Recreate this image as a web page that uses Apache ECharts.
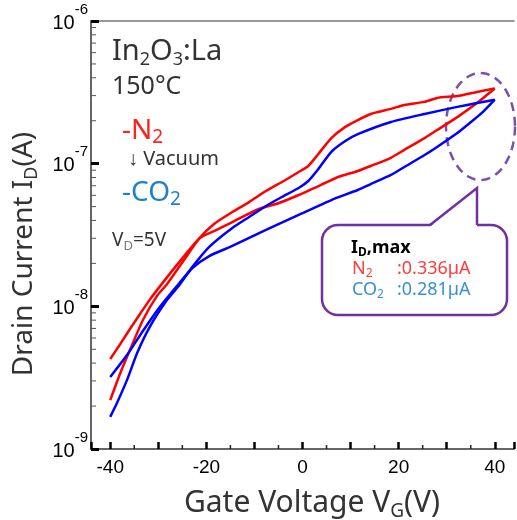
<!DOCTYPE html>
<html>
<head>
<meta charset="utf-8">
<script src="https://cdn.jsdelivr.net/npm/echarts@6/dist/echarts.min.js"></script>
<style>
html, body { margin: 0; padding: 0; background: #fff; }
#chart { width: 517px; height: 520px; }
</style>
</head>
<body>
<div id="chart"></div>
<script>
// N2 transfer curve, branch with the shoulder near +5 V
var n2UpperV = [-40, -37.9, -35.9, -33.2, -30.3, -28.2, -24.5, -21.4, -18.4, -14.6, -11.1, -7.6, -3.9, -0.8, 1.2, 3.3, 6.0, 8.9, 11.5, 14.2, 18.4, 21.2, 25.4, 28.0, 32.2, 36.3, 40];
var n2UpperI = [2.2e-9, 3.41e-9, 4.94e-9, 8.02e-9, 1.18e-8, 1.43e-8, 2.15e-8, 3.01e-8, 3.78e-8, 4.58e-8, 5.38e-8, 6.43e-8, 7.56e-8, 8.74e-8, 9.63e-8, 1.17e-7, 1.51e-7, 1.81e-7, 2.02e-7, 2.23e-7, 2.42e-7, 2.58e-7, 2.71e-7, 2.89e-7, 2.98e-7, 3.18e-7, 3.36e-7];
// N2, the other branch
var n2LowerV = [-40, -37.9, -35.9, -33.8, -31.8, -29.1, -25.6, -21.4, -18.4, -14.6, -9.1, -4.9, -0.8, 4.7, 7.4, 11.5, 14.2, 18.4, 21.2, 25.4, 28.0, 32.2, 36.3, 40];
var n2LowerI = [4.27e-9, 5.45e-9, 6.94e-9, 8.84e-9, 1.11e-8, 1.46e-8, 2.05e-8, 3.0e-8, 3.37e-8, 3.90e-8, 4.81e-8, 5.30e-8, 6.03e-8, 7.32e-8, 8.06e-8, 8.88e-8, 9.63e-8, 1.10e-7, 1.25e-7, 1.51e-7, 1.72e-7, 2.12e-7, 2.66e-7, 3.36e-7];
// CO2
var co2UpperV = [-40, -38.6, -36.5, -34.4, -31.8, -28.2, -25.6, -22.9, -19.4, -14.6, -11.1, -7.6, -4.3, -0.8, 1.2, 3.3, 6.0, 8.9, 11.5, 18.4, 25.4, 32.2, 36.3, 40];
var co2UpperI = [1.68e-9, 2.10e-9, 3.05e-9, 4.71e-9, 7.16e-9, 1.107e-8, 1.41e-8, 1.89e-8, 2.61e-8, 3.54e-8, 4.23e-8, 5.05e-8, 5.84e-8, 6.75e-8, 7.56e-8, 9.18e-8, 1.21e-7, 1.44e-7, 1.61e-7, 1.96e-7, 2.23e-7, 2.50e-7, 2.66e-7, 2.81e-7];
var co2LowerV = [-40, -36.5, -33.2, -29.7, -25.6, -22.9, -19.4, -14.6, -7.6, -0.8, 6.0, 11.5, 14.2, 18.4, 21.2, 25.4, 28.0, 32.2, 34.8, 37.5, 40];
var co2LowerI = [3.20e-9, 4.56e-9, 6.72e-9, 9.89e-9, 1.458e-8, 1.856e-8, 2.25e-8, 2.65e-8, 3.43e-8, 4.37e-8, 5.56e-8, 6.54e-8, 7.20e-8, 8.33e-8, 9.48e-8, 1.15e-7, 1.31e-7, 1.64e-7, 1.93e-7, 2.30e-7, 2.81e-7];

var xMin = -44, xMax = 44;
var yMin = 1e-9, yMax = 1e-6;
var xMinorTicks = [-35, -25, -15, -5, 5, 15, 25, 35];
var yLabelValues = [1e-9, 1e-8, 1e-7, 1e-6];
var yLabelExps = ['-9', '-8', '-7', '-6'];
var yDecades = [1e-9, 1e-8, 1e-7];
var yMinorMult = [2, 3, 4, 5, 6, 7, 8, 9];

var yMinorTicks = [];
yDecades.forEach(function (d) {
	yMinorMult.forEach(function (m) { yMinorTicks.push(m * d); });
});

function pairs(xs, ys) {
	return xs.map(function (v, i) { return [v, ys[i]]; });
}

var RED = '#ff0000';
var BLUE = '#0000ff';
var PURPLE = '#7030a0';
var TXT = '#333';
var FONT = '"Noto Sans", sans-serif';
var TICKFONT = '"Liberation Sans", Arial, sans-serif';

function curve(data, color) {
	return {
		type: 'line',
		data: data,
		symbol: 'none',
		smooth: 0.2,
		lineStyle: { color: color, width: 2.5 },
		silent: true
	};
}

// dashed ellipse around the maxima
var ell = [];
for (var k = 0; k < 72; k++) {
	var a = k / 72 * Math.PI * 2;
	ell.push([480.5 + 34.5 * Math.cos(a), 126.5 + 53.5 * Math.sin(a)]);
}

var chart = echarts.init(document.getElementById('chart'));

var option = {
	animation: false,
	backgroundColor: '#fff',
	grid: { left: 91, right: 0, top: 21, bottom: 71, containLabel: false },
	xAxis: [{
		type: 'value',
		min: xMin, max: xMax,
		splitNumber: 9,
		axisLine: { onZero: false, lineStyle: { color: '#666', width: 2 } },
		axisTick: { inside: true, length: 7, lineStyle: { color: '#000', width: 2.5 } },
		axisLabel: {
			margin: 9,
			fontSize: 19,
			color: '#000',
			fontFamily: TICKFONT,
			formatter: function (v) { return (v % 20 === 0) ? String(v) : ''; }
		},
		splitLine: { show: false }
	}, {
		type: 'value',
		position: 'top',
		min: xMin, max: xMax,
		axisLine: { show: true, onZero: false, lineStyle: { color: '#777', width: 1.5 } },
		axisTick: { show: false },
		axisLabel: { show: false },
		splitLine: { show: false }
	}],
	yAxis: {
		type: 'log',
		logBase: 10,
		min: yMin, max: yMax,
		axisLine: { show: true, onZero: false, lineStyle: { color: '#666', width: 2 } },
		axisTick: { show: true, inside: true, length: 8, lineStyle: { color: '#000', width: 3 } },
		axisLabel: { show: false },
		splitLine: { show: false }
	},
	series: [
		{
			// log minor ticks on the y axis
			type: 'custom',
			silent: true,
			clip: false,
			data: yMinorTicks.map(function (v) { return [xMin, v]; }),
			renderItem: function (params, api) {
				var p = api.coord([api.value(0), api.value(1)]);
				return { type: 'line', shape: { x1: p[0], y1: p[1], x2: p[0] + 5, y2: p[1] }, style: { stroke: '#555', lineWidth: 1 } };
			}
		},
		{
			// minor ticks on the x axis
			type: 'custom',
			silent: true,
			clip: false,
			data: xMinorTicks.map(function (v) { return [v, yMin]; }),
			renderItem: function (params, api) {
				var p = api.coord([api.value(0), api.value(1)]);
				return { type: 'line', shape: { x1: p[0], y1: p[1], x2: p[0], y2: p[1] - 4 }, style: { stroke: '#222', lineWidth: 1.5 } };
			}
		},
		{
			// y tick labels 10^n
			type: 'custom',
			silent: true,
			clip: false,
			data: yLabelValues.map(function (v, i) { return [xMin, v, i]; }),
			renderItem: function (params, api) {
				var p = api.coord([api.value(0), api.value(1)]);
				var e = yLabelExps[api.value(2)];
				return {
					type: 'text',
					x: p[0] - 3,
					y: p[1] - 3.5,
					style: {
						text: '{b|10}{s|' + e + '}',
						align: 'right',
						verticalAlign: 'middle',
						rich: {
							b: { fontSize: 20, fontFamily: TICKFONT, fill: '#000', lineHeight: 31, verticalAlign: 'bottom' },
							s: { fontSize: 15, fontFamily: TICKFONT, fill: '#000', lineHeight: 14, verticalAlign: 'top' }
						}
					}
				};
			}
		},
		curve(pairs(n2UpperV, n2UpperI), RED),
		curve(pairs(n2LowerV, n2LowerI), RED),
		curve(pairs(co2UpperV, co2UpperI), BLUE),
		curve(pairs(co2LowerV, co2LowerI), BLUE)
	],
	graphic: [
		// axis titles
		{
			type: 'text', x: 24, y: 254, rotation: Math.PI / 2, silent: true,
			style: {
				text: '{m|Drain Current I}{s|D}{m|(A)}',
				align: 'center', verticalAlign: 'middle',
				rich: {
					m: { fontSize: 28, fontFamily: FONT, fill: TXT, lineHeight: 34 },
					s: { fontSize: 18, fontFamily: FONT, fill: TXT, lineHeight: 17, verticalAlign: 'bottom' }
				}
			}
		},
		{
			type: 'text', x: 312, y: 503, silent: true,
			style: {
				text: '{m|Gate Voltage V}{s|G}{m|(V)}',
				align: 'center', verticalAlign: 'middle',
				rich: {
					m: { fontSize: 30, fontFamily: FONT, fill: TXT, lineHeight: 36 },
					s: { fontSize: 19, fontFamily: FONT, fill: TXT, lineHeight: 18, verticalAlign: 'bottom' }
				}
			}
		},
		// sample labels
		{
			type: 'text', x: 112, y: 52, silent: true,
			style: {
				text: '{m|In}{s|2}{m|O}{s|3}{m|:La}',
				verticalAlign: 'middle',
				rich: {
					m: { fontSize: 29, fontFamily: FONT, fill: TXT, lineHeight: 34 },
					s: { fontSize: 18, fontFamily: FONT, fill: TXT, lineHeight: 17, verticalAlign: 'bottom' }
				}
			}
		},
		{
			type: 'text', x: 112, y: 87, silent: true,
			style: { text: '150°C', verticalAlign: 'middle', fontSize: 25, fontFamily: FONT, fill: TXT }
		},
		{
			type: 'text', x: 122, y: 131, silent: true,
			style: {
				text: '{m|-N}{s|2}',
				verticalAlign: 'middle',
				rich: {
					m: { fontSize: 28, fontFamily: FONT, fill: '#ff2020', lineHeight: 32 },
					s: { fontSize: 19, fontFamily: FONT, fill: '#ff2020', lineHeight: 16, verticalAlign: 'bottom' }
				}
			}
		},
		{
			type: 'text', x: 128, y: 159, silent: true,
			style: { text: '↓ Vacuum', verticalAlign: 'middle', fontSize: 20, fontFamily: FONT, fill: TXT }
		},
		{
			type: 'text', x: 122, y: 193, silent: true,
			style: {
				text: '{m|-CO}{s|2}',
				verticalAlign: 'middle',
				rich: {
					m: { fontSize: 28, fontFamily: FONT, fill: '#1e7fd0', lineHeight: 32 },
					s: { fontSize: 19, fontFamily: FONT, fill: '#1e7fd0', lineHeight: 16, verticalAlign: 'bottom' }
				}
			}
		},
		{
			type: 'text', x: 112, y: 241, silent: true,
			style: {
				text: '{m|V}{s|D}{m|=5V}',
				verticalAlign: 'middle',
				rich: {
					m: { fontSize: 19, fontFamily: FONT, fill: TXT, lineHeight: 24 },
					s: { fontSize: 13, fontFamily: FONT, fill: '#777', lineHeight: 13, verticalAlign: 'bottom' }
				}
			}
		},
		// dashed ellipse
		{
			type: 'polygon', silent: true,
			shape: { points: ell },
			style: { fill: 'none', stroke: '#7a4fb0', lineWidth: 2.5, lineDash: [9, 6] }
		},
		// callout box
		{
			type: 'rect', silent: true,
			shape: { x: 322, y: 225, width: 185, height: 90, r: 16 },
			style: { fill: '#fff', stroke: PURPLE, lineWidth: 2.5 }
		},
		{
			type: 'polygon', silent: true,
			shape: { points: [[429, 227.5], [477, 188], [477, 227.5]] },
			style: { fill: '#fff', stroke: 'none' }
		},
		{
			type: 'polyline', silent: true,
			shape: { points: [[430, 225], [477, 188], [477, 225]] },
			style: { fill: 'none', stroke: PURPLE, lineWidth: 2.5 }
		},
		{
			type: 'text', x: 351, y: 248, silent: true,
			style: {
				text: '{m|I}{s|D}{m|,max}',
				verticalAlign: 'middle',
				rich: {
					m: { fontSize: 18, fontWeight: 'bold', fontFamily: FONT, fill: '#000', lineHeight: 22 },
					s: { fontSize: 12, fontWeight: 'bold', fontFamily: FONT, fill: '#000', lineHeight: 12, verticalAlign: 'bottom' }
				}
			}
		},
		{
			type: 'text', x: 352, y: 269, silent: true,
			style: {
				text: '{m|N}{s|2}',
				verticalAlign: 'middle',
				rich: {
					m: { fontSize: 18, fontFamily: FONT, fill: '#ff3b3b', lineHeight: 22 },
					s: { fontSize: 12, fontFamily: FONT, fill: '#ff3b3b', lineHeight: 12, verticalAlign: 'bottom' }
				}
			}
		},
		{
			type: 'text', x: 397, y: 269, silent: true,
			style: { text: ':0.336µA', verticalAlign: 'middle', fontSize: 18, fontFamily: FONT, fill: '#ff3b3b' }
		},
		{
			type: 'text', x: 352, y: 290, silent: true,
			style: {
				text: '{m|CO}{s|2}',
				verticalAlign: 'middle',
				rich: {
					m: { fontSize: 18, fontFamily: FONT, fill: '#3a8fd0', lineHeight: 22 },
					s: { fontSize: 12, fontFamily: FONT, fill: '#3a8fd0', lineHeight: 12, verticalAlign: 'bottom' }
				}
			}
		},
		{
			type: 'text', x: 397, y: 290, silent: true,
			style: { text: ':0.281µA', verticalAlign: 'middle', fontSize: 18, fontFamily: FONT, fill: '#3a8fd0' }
		}
	]
};

chart.setOption(option);
</script>
</body>
</html>
